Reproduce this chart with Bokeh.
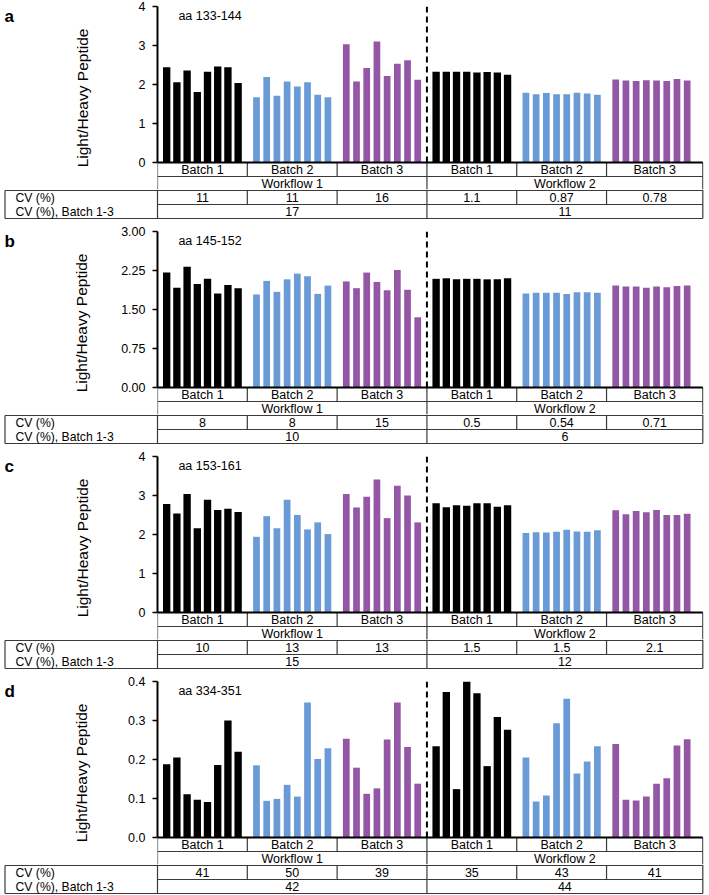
from bokeh.plotting import figure
from bokeh.layouts import column, row
from bokeh.models import Range1d, FixedTicker, NumeralTickFormatter
from bokeh.embed import file_html
from bokeh.resources import INLINE
from bokeh.core.properties import value

FONT = "Liberation Sans"

batch_labels = ["Batch 1", "Batch 2", "Batch 3", "Batch 1", "Batch 2", "Batch 3"]
workflow_labels = ["Workflow 1", "Workflow 2"]
bar_colors = ["#000000", "#6a9bd6", "#9457a6"]
row_labels = ["CV (%)", "CV (%), Batch 1-3"]
y_label = "Light/Heavy Peptide"

# Panel a: aa 133-144  (W1 B1, W1 B2, W1 B3, W2 B1, W2 B2, W2 B3)
a_values = [
    [2.44, 2.06, 2.36, 1.81, 2.33, 2.46, 2.44, 2.04],
    [1.67, 2.19, 1.71, 2.08, 1.95, 2.06, 1.74, 1.67],
    [3.03, 2.08, 2.42, 3.10, 2.22, 2.53, 2.62, 2.12],
    [2.33, 2.33, 2.33, 2.33, 2.31, 2.32, 2.31, 2.25],
    [1.79, 1.75, 1.78, 1.75, 1.75, 1.79, 1.77, 1.74],
    [2.13, 2.10, 2.09, 2.11, 2.10, 2.09, 2.14, 2.10],
]
a_cv = ["11", "11", "16", "1.1", "0.87", "0.78"]
a_cv_all = ["17", "11"]
a_ticks = [0, 1, 2, 3, 4]

# Panel b: aa 145-152
b_values = [
    [2.21, 1.92, 2.32, 1.99, 2.09, 1.81, 1.97, 1.91],
    [1.79, 2.05, 1.84, 2.08, 2.19, 2.14, 1.80, 1.96],
    [2.04, 1.91, 2.21, 2.03, 1.87, 2.26, 1.88, 1.35],
    [2.09, 2.10, 2.08, 2.09, 2.09, 2.08, 2.08, 2.10],
    [1.81, 1.82, 1.82, 1.82, 1.80, 1.83, 1.83, 1.82],
    [1.96, 1.94, 1.94, 1.92, 1.94, 1.93, 1.95, 1.96],
]
b_cv = ["8", "8", "15", "0.5", "0.54", "0.71"]
b_cv_all = ["10", "6"]
b_ticks = [0, 0.75, 1.5, 2.25, 3.0]

# Panel c: aa 153-161
c_values = [
    [2.78, 2.54, 3.04, 2.16, 2.89, 2.63, 2.66, 2.58],
    [1.94, 2.47, 2.16, 2.89, 2.50, 2.13, 2.31, 2.01],
    [3.04, 2.69, 2.97, 3.41, 2.42, 3.25, 3.00, 2.31],
    [2.80, 2.70, 2.75, 2.74, 2.80, 2.80, 2.71, 2.75],
    [2.04, 2.06, 2.05, 2.07, 2.12, 2.08, 2.07, 2.11],
    [2.62, 2.52, 2.60, 2.57, 2.63, 2.50, 2.50, 2.53],
]
c_cv = ["10", "13", "13", "1.5", "1.5", "2.1"]
c_cv_all = ["15", "12"]
c_ticks = [0, 1, 2, 3, 4]

# Panel d: aa 334-351
d_values = [
    [0.188, 0.205, 0.111, 0.097, 0.091, 0.186, 0.300, 0.220],
    [0.185, 0.094, 0.099, 0.135, 0.105, 0.346, 0.201, 0.229],
    [0.253, 0.179, 0.112, 0.126, 0.251, 0.346, 0.232, 0.138],
    [0.234, 0.373, 0.124, 0.401, 0.370, 0.183, 0.309, 0.276],
    [0.205, 0.092, 0.108, 0.293, 0.356, 0.164, 0.195, 0.234],
    [0.240, 0.097, 0.095, 0.105, 0.138, 0.152, 0.236, 0.252],
]
d_cv = ["41", "50", "39", "35", "43", "41"]
d_cv_all = ["42", "44"]
d_ticks = [0, 0.1, 0.2, 0.3, 0.4]

panels = [
    dict(letter="a", title="aa 133-144", values=a_values, cv=a_cv, cv_all=a_cv_all,
         ticks=a_ticks, fmt="0", standoff=45, tb=6),
    dict(letter="b", title="aa 145-152", values=b_values, cv=b_cv, cv_all=b_cv_all,
         ticks=b_ticks, fmt="0.00", standoff=28, tb=12),
    dict(letter="c", title="aa 153-161", values=c_values, cv=c_cv, cv_all=c_cv_all,
         ticks=c_ticks, fmt="0", standoff=45, tb=12),
    dict(letter="d", title="aa 334-351", values=d_values, cv=d_cv, cv_all=d_cv_all,
         ticks=d_ticks, fmt="0.0", standoff=35, tb=12),
]

W = 709
LETTER_W = 30
AXIS_X = 157          # frame left (px from page left)
RIGHT_B = 6
CH = 156              # chart area height (px)
RH = 14               # table row height (px)
FRAME_W = W - AXIS_X - RIGHT_B
XMAX = 53.5
GW = 8.8
upp = XMAX / FRAME_W
X0 = -AXIS_X * upp
XEND = XMAX + RIGHT_B * upp
XL = X0 + 4.5 * upp
XR = XMAX - 0.7 * upp
LINE_C = "#3a3a3a"
LW = 1.2

bc = [g * GW + GW / 2 for g in range(5)] + [(5 * GW + XR) / 2]
wc = [3 * GW / 2, (3 * GW + XR) / 2]


def txt_kw(size="12.5px"):
    return dict(text_font=value(FONT), text_font_size=size, text_color="black",
                text_baseline="middle")


rows = []
for i, pn in enumerate(panels):
    tb = pn["tb"]
    ymax = pn["ticks"][-1]
    frame_h = CH + 2 * RH - 1
    H = tb + frame_h
    ppu = CH / ymax
    p = figure(width=W - LETTER_W, height=H, x_range=Range1d(0, XMAX),
               y_range=Range1d(-(2 * RH - 1) / ppu, ymax),
               output_backend="svg", toolbar_location=None, x_axis_location=None,
               min_border_left=AXIS_X - LETTER_W, min_border_right=RIGHT_B,
               min_border_top=tb, min_border_bottom=0, frame_align=False)
    p.extra_y_ranges = {"tbl": Range1d(-(2 * RH - 1) / RH, CH / RH)}
    p.outline_line_color = None
    p.grid.visible = False

    xs, tops, cols, widths = [], [], [], []
    for g, grp in enumerate(pn["values"]):
        for j, v in enumerate(grp):
            xs.append(g * GW + 0.9 + j)
            tops.append(v)
            cols.append(bar_colors[g % 3])
            widths.append(0.72 if g % 3 == 0 else 0.66)
    p.vbar(x=xs, top=tops, bottom=0, width=widths, fill_color=cols, line_color=None)

    p.segment(x0=[3 * GW], y0=[0], x1=[3 * GW], y1=[ymax], line_color="black",
              line_width=2, line_dash="6 4")

    p.text(x=[2.05], y=[ymax * (1 - 9.0 / CH)], text=[pn["title"]], text_align="left",
           **txt_kw("12.5px"))

    # batch / workflow rows (below baseline)
    sx0, sy0, sx1, sy1 = [], [], [], []
    def seg(a, b, c, d):
        sx0.append(a); sy0.append(b); sx1.append(c); sy1.append(d)
    seg(0, -1, XR, -1)
    seg(0, -2, 0, 0)
    seg(XR, -2, XR, 0)
    seg(3 * GW, -2, 3 * GW, 0)
    for g in [1, 2, 4, 5]:
        seg(g * GW, -1, g * GW, 0)
    p.segment(x0=sx0, y0=sy0, x1=sx1, y1=sy1, line_color=LINE_C, line_width=LW,
              y_range_name="tbl")
    p.segment(x0=[0], y0=[0], x1=[XR], y1=[0], line_color="black", line_width=2,
              y_range_name="tbl")
    p.text(x=bc, y=[-0.5] * 6, text=batch_labels, text_align="center",
           y_range_name="tbl", **txt_kw())
    p.text(x=wc, y=[-1.5] * 2, text=workflow_labels, text_align="center",
           y_range_name="tbl", **txt_kw())

    ax = p.yaxis[0]
    ax.ticker = FixedTicker(ticks=pn["ticks"])
    ax.formatter = NumeralTickFormatter(format=pn["fmt"])
    ax.bounds = (0, ymax)
    ax.axis_line_width = 2
    ax.axis_line_color = "black"
    ax.major_tick_out = 5
    ax.major_tick_in = 0
    ax.major_tick_line_width = 1.5
    ax.minor_tick_line_color = None
    ax.major_label_text_font = FONT
    ax.major_label_text_font_size = "12.5px"
    ax.major_label_text_color = "black"
    ax.major_label_standoff = 7
    ax.axis_label = y_label
    ax.axis_label_text_font = FONT
    ax.axis_label_text_font_size = "15.5px"
    ax.axis_label_text_font_style = "normal"
    ax.axis_label_text_color = "black"
    ax.axis_label_standoff = pn["standoff"]

    # panel letter
    lf = figure(width=LETTER_W, height=H, x_range=Range1d(0, LETTER_W), y_range=Range1d(0, H),
                output_backend="svg", toolbar_location=None,
                x_axis_location=None, y_axis_location=None,
                min_border_left=0, min_border_right=0, min_border_top=0, min_border_bottom=0,
                frame_align=False)
    lf.outline_line_color = None
    lf.grid.visible = False
    lf.text(x=[4], y=[H - (tb + 10)], text=[pn["letter"]], text_font=value(FONT),
            text_font_size="17px", text_font_style="bold", text_color="black",
            text_align="left", text_baseline="alphabetic")

    rows.append(row(lf, p, spacing=0))

    # CV rows table
    TH = 2 * RH + 2
    t = figure(width=W, height=TH, x_range=Range1d(X0, XEND),
               y_range=Range1d(-1.0 / RH, 2 + 1.0 / RH),
               output_backend="svg", toolbar_location=None,
               x_axis_location=None, y_axis_location=None,
               min_border_left=0, min_border_right=0, min_border_top=0, min_border_bottom=0,
               frame_align=False)
    t.outline_line_color = None
    t.grid.visible = False

    sx0, sy0, sx1, sy1 = [], [], [], []
    top = 2 + 1.0 / RH
    seg(XL, 2, XR, 2)
    seg(0, 1, XR, 1)
    seg(XL, 0, XR, 0)
    seg(XL, 0, XL, 2)
    seg(0, 0, 0, top)
    seg(XR, 0, XR, top)
    seg(3 * GW, 0, 3 * GW, top)
    for g in [1, 2, 4, 5]:
        seg(g * GW, 1, g * GW, 2)
    t.segment(x0=sx0, y0=sy0, x1=sx1, y1=sy1, line_color=LINE_C, line_width=LW)

    t.text(x=bc, y=[1.5] * 6, text=pn["cv"], text_align="center", **txt_kw())
    t.text(x=wc, y=[0.5] * 2, text=pn["cv_all"], text_align="center", **txt_kw())
    t.text(x=[X0 + 15 * upp] * 2, y=[1.5, 0.5], text=row_labels, text_align="left",
           **txt_kw("12.2px"))
    rows.append(t)

layout = column(*rows, spacing=0)
open("out.html", "w").write(file_html(layout, INLINE))
